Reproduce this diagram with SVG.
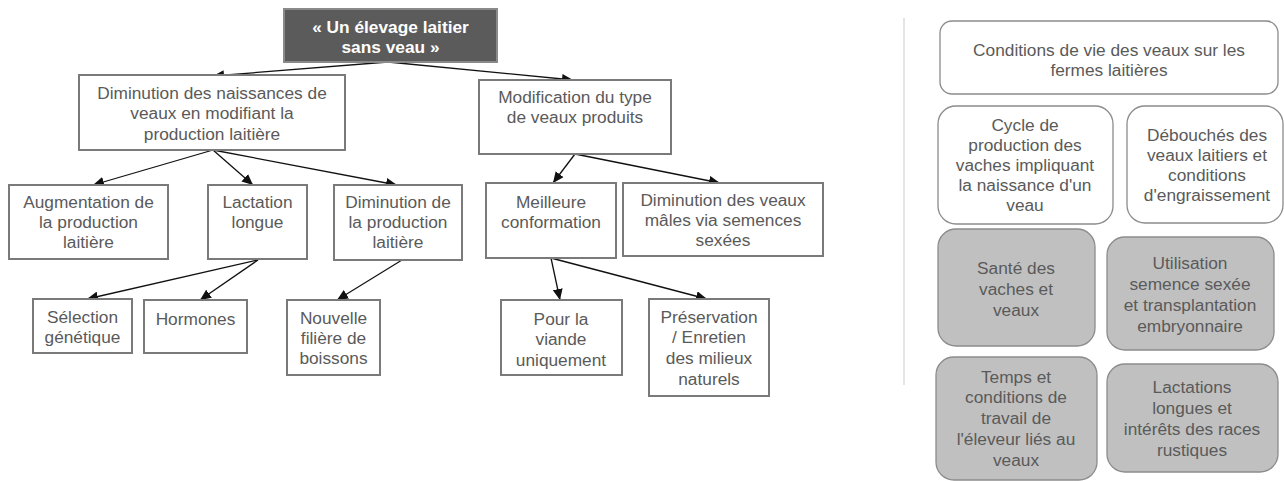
<svg xmlns="http://www.w3.org/2000/svg" width="1284" height="481" viewBox="0 0 1284 481">
<style>
  text { font-family: "Liberation Sans", Arial, sans-serif; font-size: 17.3px; fill: #5a5a5a; text-anchor: middle; }
  .box { fill: #ffffff; stroke: #7a7a7a; stroke-width: 2; }
  .root { fill: #5b5b5b; stroke: #8a8a8a; stroke-width: 2; }
  .root-t { fill: #ffffff; font-weight: bold; }
  .rbox { fill: #ffffff; stroke: #8c8c8c; stroke-width: 1.3; }
  .gbox { fill: #c0c0c0; stroke: #8c8c8c; stroke-width: 1.3; }
  .edge { stroke: #111; stroke-width: 1.3; fill: none; marker-end: url(#arr); }
</style>
<defs>
  <marker id="arr" markerUnits="userSpaceOnUse" markerWidth="12" markerHeight="10" viewBox="0 0 12 10" refX="11" refY="5" orient="auto">
    <path d="M0,0 L11,5 L0,10 Z" fill="#111"/>
  </marker>
</defs>
<rect width="1284" height="481" fill="#ffffff"/>

<g id="connectors">
  <line class="edge" x1="388" y1="62" x2="213" y2="76"/>
  <line class="edge" x1="388" y1="62" x2="573" y2="80"/>
  <line class="edge" x1="213" y1="150" x2="93" y2="185"/>
  <line class="edge" x1="213" y1="150" x2="253" y2="185"/>
  <line class="edge" x1="213" y1="150" x2="397" y2="185"/>
  <line class="edge" x1="575" y1="154" x2="553" y2="183"/>
  <line class="edge" x1="575" y1="154" x2="720" y2="183"/>
  <line class="edge" x1="258" y1="260" x2="87" y2="299"/>
  <line class="edge" x1="258" y1="260" x2="200" y2="300"/>
  <line class="edge" x1="402" y1="260" x2="337" y2="300"/>
  <line class="edge" x1="551" y1="258" x2="560" y2="300"/>
  <line class="edge" x1="551" y1="258" x2="707" y2="299"/>
</g>

<g id="root">
  <rect class="root" x="284" y="9" width="213" height="53"/>
  <text class="root-t" x="390.5" y="33">« Un élevage laitier</text>
  <text class="root-t" x="390.5" y="53">sans veau »</text>
</g>

<g id="n-diminution-naissances">
  <rect class="box" x="79" y="75" width="266" height="75"/>
  <text x="212" y="99">Diminution des naissances de</text>
  <text x="212" y="119">veaux en modifiant la</text>
  <text x="212" y="140">production laitière</text>
</g>

<g id="n-modification-type">
  <rect class="box" x="479" y="80" width="192" height="74"/>
  <text x="575" y="103">Modification du type</text>
  <text x="575" y="123">de veaux produits</text>
</g>

<g id="n-augmentation">
  <rect class="box" x="9" y="185" width="159" height="74"/>
  <text x="88.5" y="208">Augmentation de</text>
  <text x="88.5" y="228">la production</text>
  <text x="88.5" y="248">laitière</text>
</g>

<g id="n-lactation-longue">
  <rect class="box" x="208" y="185" width="99" height="74"/>
  <text x="257.5" y="208">Lactation</text>
  <text x="257.5" y="228">longue</text>
</g>

<g id="n-diminution-production">
  <rect class="box" x="334" y="185" width="128" height="75"/>
  <text x="398" y="208">Diminution de</text>
  <text x="398" y="228">la production</text>
  <text x="398" y="248">laitière</text>
</g>

<g id="n-meilleure-conformation">
  <rect class="box" x="486" y="183" width="130" height="75"/>
  <text x="551" y="208">Meilleure</text>
  <text x="551" y="228">conformation</text>
</g>

<g id="n-diminution-veaux-males">
  <rect class="box" x="623" y="183" width="200" height="73"/>
  <text x="723" y="206">Diminution des veaux</text>
  <text x="723" y="226">mâles via semences</text>
  <text x="723" y="246">sexées</text>
</g>

<g id="n-selection">
  <rect class="box" x="33" y="299" width="99" height="54"/>
  <text x="82.5" y="323">Sélection</text>
  <text x="82.5" y="343">génétique</text>
</g>

<g id="n-hormones">
  <rect class="box" x="144" y="300" width="103" height="53"/>
  <text x="195.5" y="325">Hormones</text>
</g>

<g id="n-nouvelle-filiere">
  <rect class="box" x="287" y="300" width="93" height="75"/>
  <text x="333.5" y="324">Nouvelle</text>
  <text x="333.5" y="344">filière de</text>
  <text x="333.5" y="364">boissons</text>
</g>

<g id="n-pour-la-viande">
  <rect class="box" x="501" y="300" width="121" height="75"/>
  <text x="561" y="325">Pour la</text>
  <text x="561" y="345">viande</text>
  <text x="561" y="366">uniquement</text>
</g>

<g id="n-preservation">
  <rect class="box" x="649" y="299" width="120" height="97"/>
  <text x="709" y="323">Préservation</text>
  <text x="709" y="343">/ Enretien</text>
  <text x="709" y="364">des milieux</text>
  <text x="709" y="385">naturels</text>
</g>

<line x1="904" y1="18" x2="904" y2="385" stroke="#dcdcdc" stroke-width="1.5"/>

<g id="r-conditions-vie">
  <rect class="rbox" x="940" y="21" width="338" height="73" rx="12"/>
  <text x="1109" y="56">Conditions de vie des veaux sur les</text>
  <text x="1109" y="76">fermes laitières</text>
</g>

<g id="r-cycle">
  <rect class="rbox" x="938" y="106" width="175" height="118" rx="18"/>
  <text x="1025" y="131">Cycle de</text>
  <text x="1025" y="151">production des</text>
  <text x="1025" y="171">vaches impliquant</text>
  <text x="1025" y="191">la naissance d'un</text>
  <text x="1025" y="211">veau</text>
</g>

<g id="r-debouches">
  <rect class="rbox" x="1127" y="106" width="156" height="117" rx="18"/>
  <text x="1207" y="141">Débouchés des</text>
  <text x="1207" y="161">veaux laitiers et</text>
  <text x="1207" y="181">conditions</text>
  <text x="1207" y="201">d'engraissement</text>
</g>

<g id="r-sante">
  <rect class="gbox" x="938" y="229" width="157" height="117" rx="18"/>
  <text x="1016" y="274">Santé des</text>
  <text x="1016" y="295">vaches et</text>
  <text x="1016" y="316">veaux</text>
</g>

<g id="r-utilisation">
  <rect class="gbox" x="1107" y="237" width="167" height="113" rx="18"/>
  <text x="1190" y="269">Utilisation</text>
  <text x="1190" y="290">semence sexée</text>
  <text x="1190" y="311">et transplantation</text>
  <text x="1190" y="332">embryonnaire</text>
</g>

<g id="r-temps">
  <rect class="gbox" x="936" y="357" width="161" height="123" rx="18"/>
  <text x="1016" y="383">Temps et</text>
  <text x="1016" y="403">conditions de</text>
  <text x="1016" y="424">travail de</text>
  <text x="1016" y="445">l'éleveur liés au</text>
  <text x="1016" y="466">veaux</text>
</g>

<g id="r-lactations">
  <rect class="gbox" x="1107" y="364" width="171" height="108" rx="18"/>
  <text x="1192" y="393">Lactations</text>
  <text x="1192" y="414">longues et</text>
  <text x="1192" y="435">intérêts des races</text>
  <text x="1192" y="456">rustiques</text>
</g>
</svg>
